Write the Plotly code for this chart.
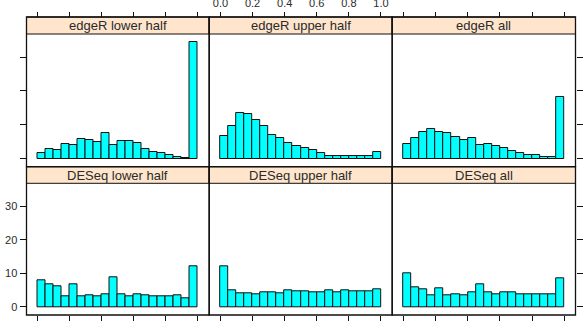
import plotly.graph_objects as go

# ---------------- data (percent of total per bin) ----------------
bin_mids = [0.025, 0.075, 0.125, 0.175, 0.225, 0.275, 0.325, 0.375, 0.425, 0.475,
            0.525, 0.575, 0.625, 0.675, 0.725, 0.775, 0.825, 0.875, 0.925, 0.975]

panel_titles = ["edgeR lower half", "edgeR upper half", "edgeR all",
                "DESeq lower half", "DESeq upper half", "DESeq all"]

edger_lower = [1.7, 2.7, 2.4, 4.2, 4.0, 5.7, 5.6, 5.0, 7.6, 3.9,
               5.2, 5.1, 4.6, 2.9, 2.0, 1.6, 1.1, 0.4, 0.3, 34.4]
edger_upper = [6.8, 9.6, 13.4, 13.2, 11.3, 9.6, 6.9, 6.1, 4.7, 3.7,
               3.1, 2.5, 1.6, 0.9, 0.9, 0.9, 0.9, 0.9, 0.9, 2.0]
edger_all = [4.2, 6.0, 7.8, 8.7, 7.8, 7.7, 6.4, 5.6, 6.0, 4.0,
             4.2, 3.7, 3.2, 2.2, 1.6, 1.2, 1.0, 0.6, 0.4, 18.1]
deseq_lower = [8.0, 6.6, 6.1, 3.1, 6.6, 3.2, 3.4, 3.1, 3.7, 8.8,
               3.9, 3.3, 3.9, 3.4, 3.3, 3.3, 3.1, 3.4, 2.7, 12.0]
deseq_upper = [12.1, 4.9, 4.1, 4.2, 3.9, 4.3, 4.3, 4.2, 4.9, 4.8,
               4.8, 4.5, 4.4, 4.9, 4.5, 4.9, 4.8, 4.8, 4.8, 5.3]
deseq_all = [10.1, 5.8, 5.2, 3.6, 5.4, 3.6, 3.8, 3.5, 4.3, 6.7,
             4.4, 3.8, 4.4, 4.4, 3.9, 3.9, 3.9, 3.9, 3.7, 8.6]

x_ticks = [0.0, 0.2, 0.4, 0.6, 0.8, 1.0]
x_ticktext = ["0.0", "0.2", "0.4", "0.6", "0.8", "1.0"]
y_ticks = [0, 10, 20, 30]
y_ticktext = ["0", "10", "20", "30"]

series = [edger_lower, edger_upper, edger_all, deseq_lower, deseq_upper, deseq_all]

# ---------------- layout geometry (pixels) ----------------
W, H = 585, 328
cols = [(26.5, 209.2), (209.2, 392.2), (392.2, 575.5)]
rows = [(17.0, 34.0, 166.7), (166.7, 183.3, 315.0)]  # strip top, plot top, plot bottom
XR = [-0.07, 1.07]
YR = [-2.4, 36.8]

def px(x):
    return x / W

def py(y):
    return 1 - y / H

FONT = "Liberation Sans, Arial, sans-serif"
TXT = "#2a2a2a"

fig = go.Figure()
shapes = []
annotations = []
layout_axes = {}

for r in range(2):
    for c in range(3):
        i = r * 3 + c + 1
        sfx = "" if i == 1 else str(i)
        xa, ya = "x" + sfx, "y" + sfx
        fig.add_trace(go.Bar(
            x=bin_mids, y=series[i - 1], width=0.05,
            marker=dict(color="#00FFFF", line=dict(color="#111111", width=1)),
            xaxis=xa, yaxis=ya, showlegend=False, hoverinfo="skip"))

        c0, c1 = cols[c]
        s_top, p_top, p_bot = rows[r]

        xdict = dict(domain=[px(c0), px(c1)], range=XR, tickvals=x_ticks, ticktext=x_ticktext,
                     ticks="outside", ticklen=5, tickwidth=1, tickcolor="#111111",
                     showgrid=False, zeroline=False, showline=False, fixedrange=True,
                     automargin=False,
                     tickfont=dict(family=FONT, size=11, color=TXT))
        if r == 0:
            xdict.update(anchor="free", position=py(s_top), side="top",
                         showticklabels=(c == 1), ticklabelstandoff=1)
        else:
            xdict.update(anchor=ya, side="bottom", showticklabels=False)
        layout_axes["xaxis" + sfx] = xdict

        ydict = dict(domain=[py(p_bot), py(p_top)], range=YR, tickvals=y_ticks, ticktext=y_ticktext,
                     anchor=xa, showgrid=False, zeroline=False, showline=False, fixedrange=True,
                     automargin=False,
                     tickcolor="#111111", tickwidth=1, ticklen=6,
                     tickfont=dict(family=FONT, size=11, color=TXT))
        if c == 0:
            ydict.update(side="left", ticks="outside", showticklabels=(r == 1))
        elif c == 2:
            ydict.update(side="right", ticks="outside", showticklabels=False)
        else:
            ydict.update(ticks="", showticklabels=False)
        layout_axes["yaxis" + sfx] = ydict

        # strip
        shapes.append(dict(type="rect", xref="paper", yref="paper",
                           x0=px(c0), x1=px(c1), y0=py(p_top), y1=py(s_top),
                           fillcolor="#FFE5CC", line=dict(color="#111111", width=1), layer="below"))
        # panel border
        shapes.append(dict(type="rect", xref="paper", yref="paper",
                           x0=px(c0), x1=px(c1), y0=py(p_bot), y1=py(s_top),
                           fillcolor="rgba(0,0,0,0)", line=dict(color="#111111", width=1.3),
                           layer="above"))
        annotations.append(dict(text=panel_titles[i - 1], xref="paper", yref="paper",
                                x=px((c0 + c1) / 2), y=py((s_top + p_top) / 2),
                                xanchor="center", yanchor="middle", showarrow=False,
                                font=dict(family=FONT, size=13, color=TXT)))

fig.update_layout(width=W, height=H, margin=dict(l=0, r=0, t=0, b=0, autoexpand=False),
                  paper_bgcolor="white", plot_bgcolor="white",
                  shapes=shapes, annotations=annotations, bargap=0,
                  **layout_axes)

fig.write_html("out.html")
